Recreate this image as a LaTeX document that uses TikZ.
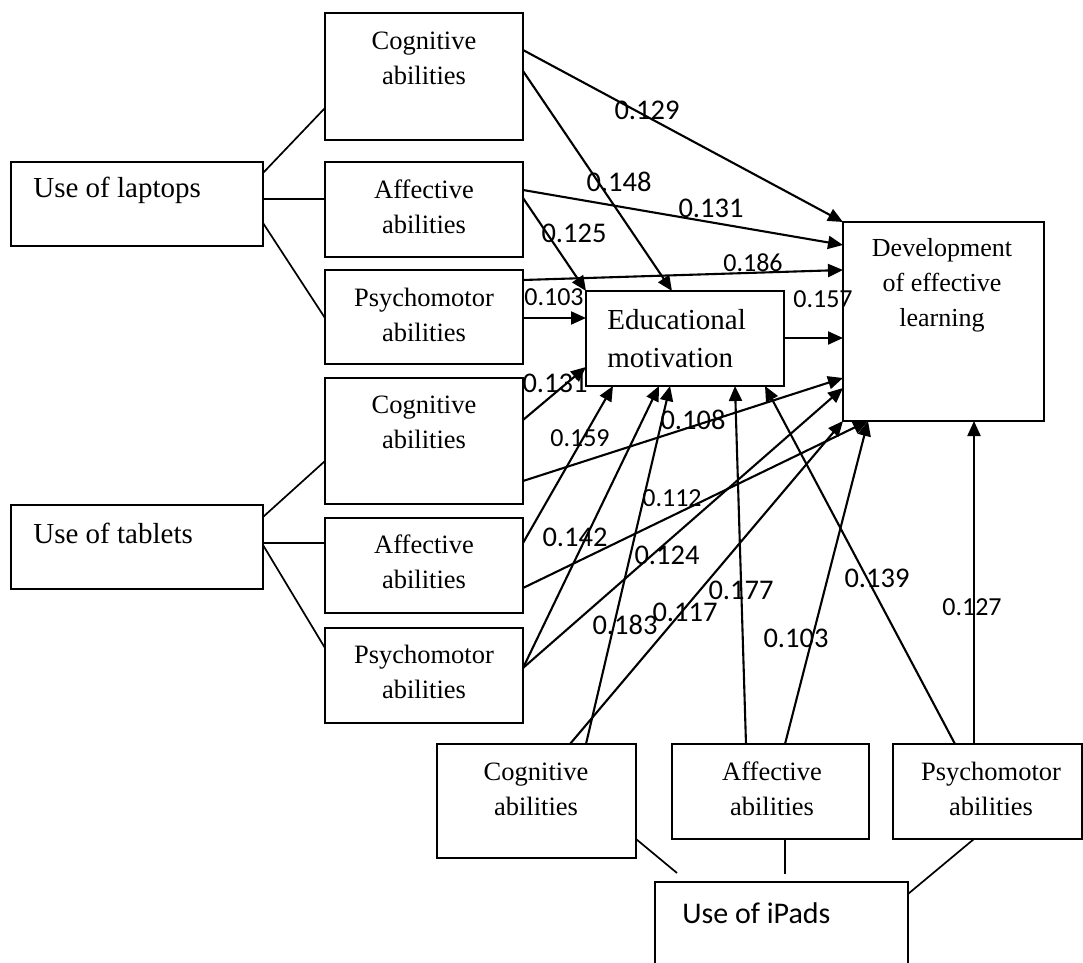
\documentclass[tikz,border=0pt]{standalone}
\usepackage{fontspec}
\setmainfont{Liberation Serif}
\newfontfamily\calib{Carlito}
\usetikzlibrary{arrows.meta,calc}
\begin{document}
\begin{tikzpicture}[x=0.5pt,y=-0.5pt,
  box/.style={draw,line width=1pt,inner sep=0pt,outer sep=0pt,minimum width=99pt},
  abil/.style={align=center,inner sep=0pt,font=\fontsize{13.25pt}{17.5pt}\selectfont},
  usetxt/.style={anchor=west,inner sep=0pt,font=\fontsize{14.5pt}{17pt}\selectfont},
  arr/.style={line width=1.05pt,-{Triangle[length=7.5pt,width=6.5pt]}},
  ln/.style={line width=0.85pt},
  lbl/.style={inner sep=0pt,font=\calib\fontsize{14.25pt}{16pt}\selectfont},
  lbs/.style={inner sep=0pt,font=\calib\fontsize{13pt}{15pt}\selectfont}]
\clip (0,0) rectangle (1083,963);
\fill[white] (0,0) rectangle (1083,963);
% boxes
\node[box,minimum width=126pt,minimum height=42pt] (ul) at (137,204) {};
\node[box,minimum height=63.5pt] (lc) at (424,76.5) {};
\node[box,minimum height=47.5pt] (la) at (424,209.5) {};
\node[box,minimum height=47pt] (lp) at (424,317) {};
\node[box,minimum height=47.5pt] (em) at (685,338.5) {};
\node[box,minimum width=100.5pt,minimum height=99.5pt] (dev) at (943.5,321.5) {};
\node[box,minimum height=63pt] (tc) at (424,441) {};
\node[box,minimum width=126pt,minimum height=42pt] (ut) at (137,547) {};
\node[box,minimum height=47.5pt] (ta) at (424,565.5) {};
\node[box,minimum height=47.5pt] (tp) at (424,675.5) {};
\node[box,minimum width=99.5pt,minimum height=57pt] (ic) at (536.5,801) {};
\node[box,minimum width=98.5pt,minimum height=47.5pt] (ia) at (770.5,791.5) {};
\node[box,minimum width=94.5pt,minimum height=47.5pt] (ip) at (987.5,791.5) {};
\node[box,minimum width=126.5pt,minimum height=45pt] (ui) at (781.5,927) {};
% box texts
\node[usetxt] (ult) at (33,190) {Use of laptops};
\node[usetxt] (utt) at (33,533) {Use of tablets};
\node[usetxt,font=\calib\fontsize{15pt}{18pt}\selectfont] (uit) at (682,913) {Use of iPads};
\node[abil] (lct) at (424,58) {Cognitive\\abilities};
\node[abil] (lat) at (424,207) {Affective\\abilities};
\node[abil] (lpt) at (424,315) {Psychomotor\\abilities};
\node[abil] (tct) at (424,422) {Cognitive\\abilities};
\node[abil] (tat) at (424,562) {Affective\\abilities};
\node[abil] (tpt) at (424,672) {Psychomotor\\abilities};
\node[abil] (ict) at (536,789) {Cognitive\\abilities};
\node[abil] (iat) at (772,789) {Affective\\abilities};
\node[abil] (ipt) at (991,789) {Psychomotor\\abilities};
\node[abil,align=left,anchor=west,font=\fontsize{14.5pt}{19pt}\selectfont] (emt) at (607,339) {Educational\\motivation};
\node[abil,font=\fontsize{13pt}{17.5pt}\selectfont] (devt) at (942,285) {Development\\of effective\\learning};
% plain links
\draw[ln] ($(ul.north east)+(0,11)$) -- ($(lc.north west)+(0,95)$);
\draw[ln] ($(ul.north east)+(0,37)$) -- ($(la.north west)+(0,37)$);
\draw[ln] ($(ul.north east)+(0,61)$) -- ($(lp.north west)+(0,48)$);
\draw[ln] ($(ut.north east)+(0,12)$) -- ($(tc.north west)+(0,83)$);
\draw[ln] ($(ut.north east)+(0,38)$) -- ($(ta.north west)+(0,25)$);
\draw[ln] ($(ut.north east)+(0,40)$) -- ($(tp.north west)+(0,20)$);
\coordinate (f1) at (677,873);
\coordinate (f2) at (785,874);
\draw[ln] ($(ic.south east)+(0,-19)$) -- (f1);
\draw[ln] ($(ia.south west)+(113,0)$) -- (f2);
\draw[ln] ($(ip.south west)+(81,0)$) -- ($(ui.north east)+(0,12)$);
% arrows
\draw[arr] ($(lc.north east)+(0,37)$) -- (dev.north west);
\draw[arr] ($(lc.north east)+(0,58)$) -- ($(em.north west)+(86,0)$);
\draw[arr] ($(la.north east)+(0,28)$) -- ($(dev.north west)+(0,23)$);
\draw[arr] ($(la.north east)+(0,36)$) -- (em.north west);
\draw[arr] ($(lp.north east)+(0,10)$) -- ($(dev.north west)+(0,48)$);
\draw[arr] ($(lp.north east)+(0,48)$) -- ($(em.north west)+(0,27)$);
\draw[arr] ($(em.north east)+(0,47)$) -- ($(dev.north west)+(0,116)$);
\draw[arr] ($(tc.north east)+(0,42)$) -- ($(em.north west)+(0,76)$);
\draw[arr] ($(tc.north east)+(0,103)$) -- ($(dev.north west)+(0,156)$);
\draw[arr] ($(ta.north east)+(0,25)$) -- ($(em.south west)+(27,0)$);
\draw[arr] ($(ta.north east)+(0,70)$) -- ($(dev.south west)+(25,0)$);
\draw[arr] ($(tp.north east)+(0,40)$) -- ($(em.south west)+(73,0)$);
\draw[arr] ($(tp.north east)+(0,40)$) -- ($(dev.south west)+(0,-33)$);
\draw[arr] ($(ic.north west)+(149,0)$) -- ($(em.south west)+(84,0)$);
\draw[arr] ($(ic.north west)+(133,0)$) -- (dev.south west);
\draw[arr] ($(ia.north west)+(74,0)$) -- ($(em.south west)+(149,0)$);
\draw[arr] ($(ia.north west)+(113,0)$) -- ($(dev.south west)+(25,0)$);
\draw[arr] ($(ip.north west)+(62,0)$) -- ($(em.south west)+(179,0)$);
\draw[arr] ($(ip.north west)+(81,0)$) -- ($(dev.south west)+(131,0)$);
% labels
\node[lbl] (l1) at (647,110) {0.129};
\node[lbl] (l2) at (619,182) {0.148};
\node[lbl] (l3) at (711,208) {0.131};
\node[lbl] (l4) at (574,233) {0.125};
\node[lbs] (l5) at (753,263) {0.186};
\node[lbs] (l6) at (554,297) {0.103};
\node[lbs] (l7) at (823,299) {0.157};
\node[lbl] (l8) at (555,383) {0.131};
\node[lbl] (l9) at (693,420) {0.108};
\node[lbs] (l10) at (580,438) {0.159};
\node[lbs] (l11) at (672,498) {0.112};
\node[lbl] (l12) at (575,537) {0.142};
\node[lbl] (l13) at (667,555) {0.124};
\node[lbl] (l14) at (625,625) {0.183};
\node[lbl] (l15) at (685,612) {0.117};
\node[lbl] (l16) at (741,590) {0.177};
\node[lbl] (l17) at (796,638) {0.103};
\node[lbl] (l18) at (877,578) {0.139};
\node[lbs] (l19) at (972,607) {0.127};
\end{tikzpicture}
\end{document}
